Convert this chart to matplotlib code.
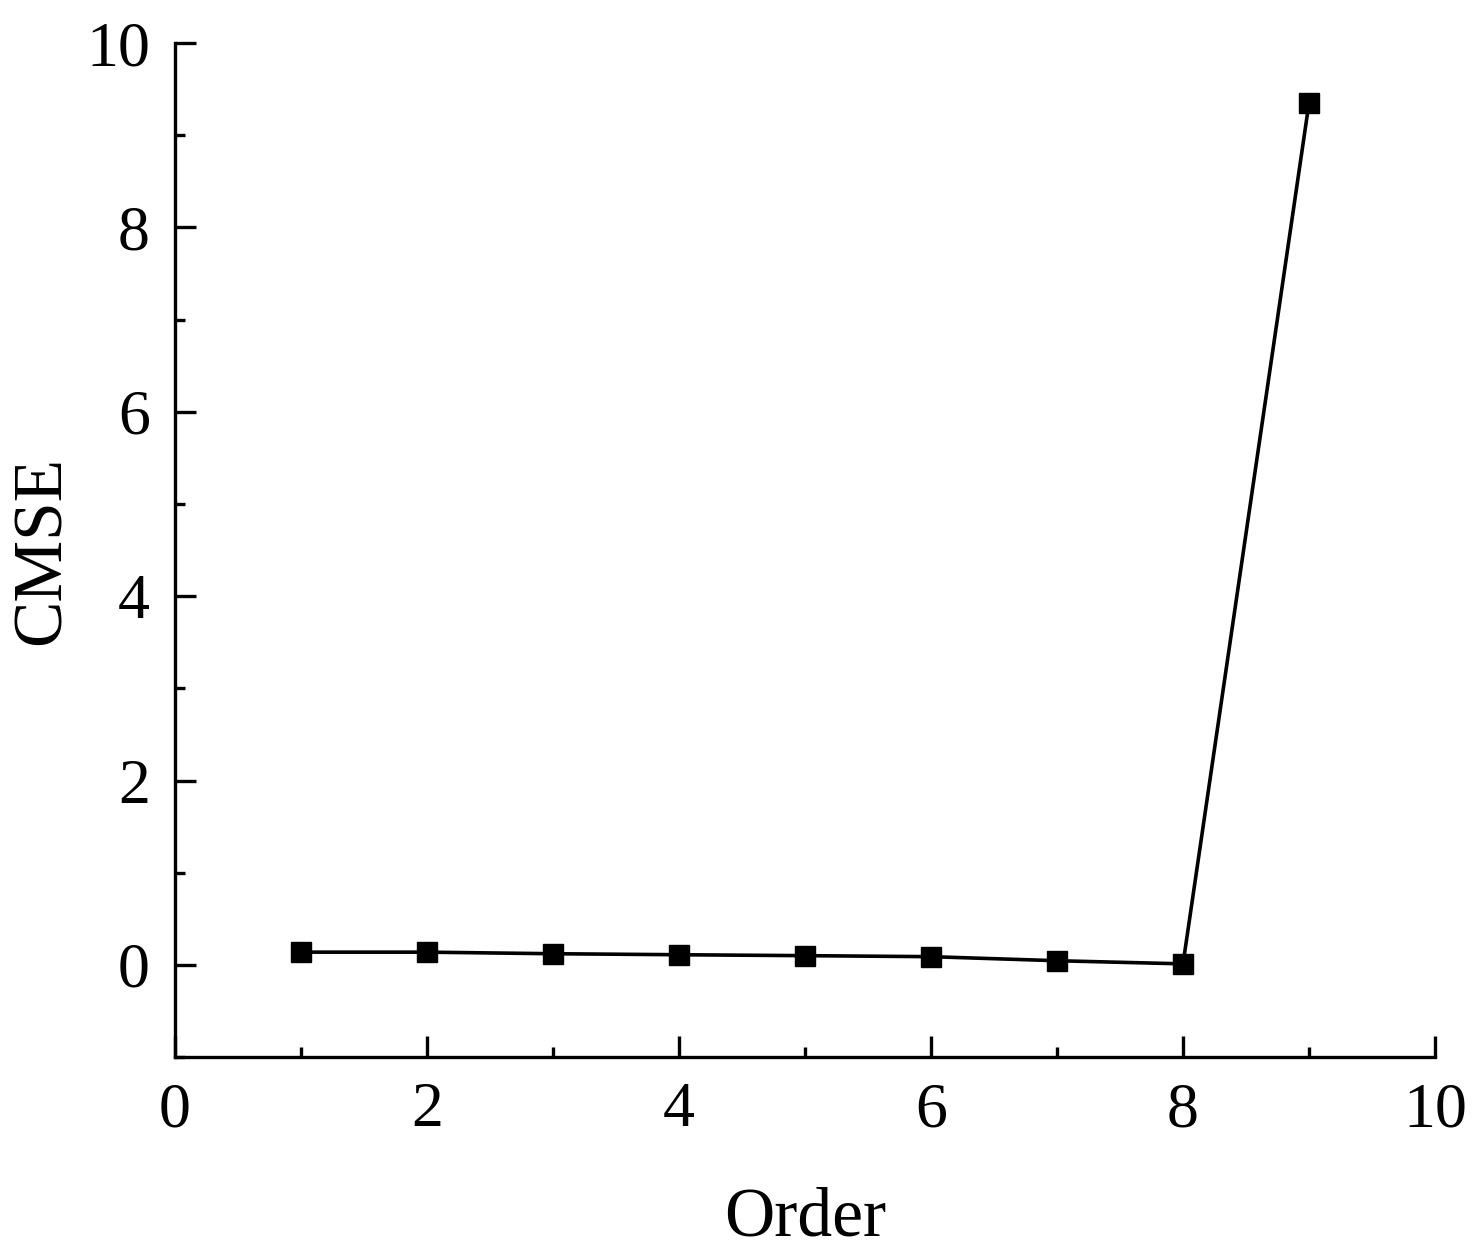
import matplotlib
matplotlib.use('Agg')
import matplotlib.pyplot as plt
from matplotlib.ticker import MultipleLocator

order = [1, 2, 3, 4, 5, 6, 7, 8, 9]
cmse = [0.138, 0.138, 0.121, 0.110, 0.100, 0.089, 0.045, 0.011, 9.35]

plt.rcParams['font.family'] = ['Liberation Serif', 'DejaVu Serif']

fig = plt.figure(figsize=(14.84, 12.59), dpi=100)
ax = fig.add_axes([0.1179, 0.1604, 0.8491, 0.8054])

ax.plot(order, cmse, color='black', linewidth=2.6, marker='s', markersize=15)

ax.set_xlim(0, 10)
ax.set_ylim(-1, 10)
ax.xaxis.set_major_locator(MultipleLocator(2))
ax.xaxis.set_minor_locator(MultipleLocator(1))
ax.yaxis.set_major_locator(MultipleLocator(2))
ax.yaxis.set_minor_locator(MultipleLocator(1))

for side in ['top', 'right']:
    ax.spines[side].set_visible(False)
for side in ['left', 'bottom']:
    ax.spines[side].set_linewidth(2.4)

ax.tick_params(which='major', direction='in', length=15, width=2.4, labelsize=46, pad=18)
ax.tick_params(which='minor', direction='in', length=7.5, width=2.4)

ax.set_xlabel('Order', fontsize=50, labelpad=34)
ax.set_ylabel('CMSE', fontsize=50, labelpad=8)

fig.savefig('out.png', dpi=100)
